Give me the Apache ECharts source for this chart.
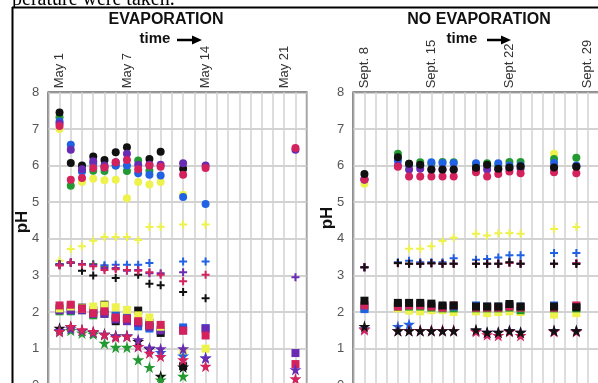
<!DOCTYPE html>
<html>
<head>
<meta charset="utf-8">
<script src="https://cdn.jsdelivr.net/npm/echarts@6/dist/echarts.min.js"></script>
<style>
html, body { margin: 0; padding: 0; background: #fff; overflow: hidden; }
/* the original figure is cropped: the plots run past the right and bottom edges */
#chart { width: 640px; height: 400px; }
</style>
</head>
<body>
<div id="chart"></div>
<script>
// ---- data: EVAPORATION panel (x = day of May) ----
var evapDays = [1, 2, 3, 4, 5, 6, 7, 8, 9, 10, 12, 14, 22];
var evapLabelDays = [1, 7, 14, 21];
var evapLabelText = ['May 1', 'May 7', 'May 14', 'May 21'];

var evapCircleYellow = [7.0, null, 5.55, 5.64, 5.6, 5.61, 5.11, 5.55, 5.48, 5.55, 5.2, null, null];
var evapCircleGreen  = [7.32, 5.45, 5.86, 5.86, 5.85, 6.0, 5.85, 6.14, 5.86, null, null, null, null];
var evapCircleBlue   = [7.2, 6.57, 5.84, 6.05, 5.95, 6.0, 6.0, 5.79, 5.75, 5.73, 5.14, 4.95, null];
var evapCirclePurple = [7.15, 6.43, 5.9, 6.12, 6.0, 6.09, 6.32, 6.02, 6.02, 6.02, 6.06, 6.0, 6.43];
var evapCircleBlack  = [7.45, 6.07, 6.0, 6.25, 6.15, 6.36, 6.5, null, 6.18, 6.38, 5.91, null, null];
var evapCircleRed    = [7.08, 5.61, 5.66, 5.93, 5.95, 6.09, 6.15, 5.9, 6.0, 5.97, 5.75, 5.93, 6.48];

var evapPlusYellow = [3.4, 3.72, 3.8, 3.95, 4.05, 4.05, 4.05, 3.97, 4.32, 4.33, 4.39, 4.39, null];
var evapPlusGreen  = [3.3, null, null, 3.31, 3.25, null, null, null, null, null, null, null, null];
var evapPlusBlue   = [3.3, 3.34, null, null, 3.28, 3.29, 3.29, 3.29, 3.34, null, 3.38, 3.38, null];
var evapPlusPurple = [3.3, 3.35, 3.31, 3.29, 3.2, 3.2, 3.13, 3.15, 3.06, 3.06, 3.09, null, 2.95];
var evapPlusBlack  = [3.3, 3.35, 3.13, 3.0, null, 2.93, null, 3.02, 2.77, 2.73, 2.55, 2.38, null];
var evapPlusRed    = [3.27, 3.35, 3.29, 3.25, 3.15, 3.17, 3.15, 3.13, 3.09, 3.02, 2.84, 3.02, null];

var evapSquareYellow = [2.1, 2.15, 2.1, 2.15, 2.18, 2.13, 2.06, 1.91, 1.85, 1.6, 0.93, 1.0, null];
var evapSquareGreen  = [2.02, 2.02, 2.05, 1.91, 1.95, 1.9, 1.8, 1.7, 1.6, null, null, null, null];
var evapSquareBlue   = [2.08, 2.05, 2.1, 2.0, 2.0, 1.9, 1.85, 1.61, 1.55, 1.5, 1.58, 1.56, null];
var evapSquarePurple = [2.05, 2.05, 2.05, 1.95, 1.95, 1.8, 1.75, 1.7, 1.6, 1.5, 1.5, 1.55, 0.88];
var evapSquareBlack  = [2.1, 2.15, 2.12, 2.05, 2.2, 1.75, 1.8, 2.04, 1.7, 1.43, 0.52, null, null];
var evapSquareRed    = [2.18, 2.2, 2.09, 1.97, 2.02, 1.85, 1.82, 1.75, 1.64, 1.65, 1.49, 1.36, 0.58];

var evapStarGreen  = [1.47, 1.5, 1.43, 1.4, 1.15, 1.04, 1.04, 0.7, 0.49, 0.15, 0.25, null, null];
var evapStarBlue   = [null, null, null, null, null, null, null, 1.06, 1.0, 0.9, 0.8, 0.75, null];
var evapStarBlack  = [1.56, 1.6, 1.5, 1.45, 1.4, 1.35, 1.35, 1.2, 1.0, 0.25, 0.5, null, null];
var evapStarPurple = [1.5, 1.55, 1.5, 1.45, 1.4, 1.35, 1.35, 1.25, 1.02, 1.0, 1.0, 0.75, 0.43];
var evapStarRed    = [1.47, 1.61, 1.52, 1.47, 1.38, 1.31, 1.33, 1.06, 0.88, 0.79, 0.7, 0.52, 0.18];

// ---- data: NO EVAPORATION panel (x = days after Sept. 7) ----
var noevDays = [1, 4, 5, 6, 7, 8, 9, 11, 12, 13, 14, 15, 18, 20];
var noevLabelDays = [1, 7, 14, 21];
var noevLabelText = ['Sept. 8', 'Sept. 15', 'Sept 22', 'Sept. 29'];

var noevCircleYellow = [5.5, null, null, null, null, null, null, null, null, null, null, null, 6.32, null];
var noevCircleGreen  = [null, 6.32, 6.05, 6.09, 6.05, 6.1, 6.09, 6.0, 6.06, 6.0, 6.1, 6.1, 6.18, 6.21];
var noevCircleBlue   = [5.62, 6.14, 6.02, 6.0, 6.09, 6.07, 6.07, 6.06, 6.0, 6.06, 6.0, 6.0, 6.07, 6.0];
var noevCirclePurple = [5.62, 6.0, 5.89, 5.91, 5.89, 5.89, 5.89, 5.9, 5.89, 5.9, 5.92, 5.92, 5.95, 5.97];
var noevCircleRed    = [5.62, 5.97, 5.7, 5.7, 5.7, 5.7, 5.7, 5.82, 5.7, 5.77, 5.84, 5.79, 5.82, 5.79];
var noevCircleBlack  = [5.77, 6.23, 6.05, 6.02, 5.89, 5.89, 5.89, 5.94, 6.02, 5.91, 5.95, 5.98, 5.95, 5.97];

var noevPlusYellow = [null, null, 3.73, 3.73, 3.8, 3.94, 4.03, 4.14, 4.09, 4.15, 4.16, 4.14, 4.27, 4.32];
var noevPlusBlue   = [3.22, 3.36, 3.4, 3.36, 3.36, 3.36, 3.47, 3.43, 3.45, 3.49, 3.55, 3.55, 3.61, 3.61];
var noevPlusPurple = [3.22, 3.34, 3.32, 3.32, 3.33, 3.32, 3.32, 3.32, 3.32, 3.32, 3.35, 3.32, 3.32, 3.33];
var noevPlusRed    = [3.22, 3.33, 3.32, 3.32, 3.33, 3.32, 3.32, 3.32, 3.32, 3.32, 3.34, 3.32, 3.32, 3.33];
var noevPlusBlack  = [3.22, 3.34, 3.32, 3.32, 3.33, 3.32, 3.32, 3.32, 3.32, 3.32, 3.36, 3.32, 3.32, 3.31];

var noevSquareYellow = [null, 2.1, 2.04, 2.02, 2.05, 2.05, 2.0, 2.02, 1.97, 2.0, 2.02, 2.0, 1.93, 1.97];
var noevSquareGreen  = [2.12, 2.15, 2.15, 2.15, 2.12, 2.1, 2.1, 2.1, 2.1, 2.1, 2.12, 2.05, 2.1, 2.1];
var noevSquareBlue   = [2.08, 2.18, 2.22, 2.2, 2.18, 2.15, 2.15, 2.18, 2.15, 2.15, 2.18, 2.15, 2.18, 2.15];
var noevSquareRed    = [2.18, 2.15, 2.18, 2.18, 2.15, 2.12, 2.18, 2.12, 2.12, 2.12, 2.15, 2.12, 2.12, 2.18];
var noevSquareBlack  = [2.31, 2.25, 2.25, 2.25, 2.23, 2.18, 2.18, 2.15, 2.15, 2.15, 2.22, 2.15, 2.15, 2.13];

var noevStarBlue   = [null, 1.61, 1.67, null, null, null, null, null, null, null, null, null, null, null];
var noevStarPurple = [1.55, 1.5, 1.5, 1.5, 1.5, 1.5, 1.5, 1.5, 1.45, 1.45, 1.5, 1.45, 1.5, 1.5];
var noevStarRed    = [1.52, 1.5, 1.5, 1.5, 1.5, 1.5, 1.5, 1.47, 1.38, 1.36, 1.47, 1.36, 1.47, 1.47];
var noevStarBlack  = [1.61, 1.49, 1.49, 1.49, 1.49, 1.49, 1.49, 1.52, 1.45, 1.45, 1.49, 1.45, 1.49, 1.49];

var yTicks = [0, 1, 2, 3, 4, 5, 6, 7, 8];

// ---- styles ----
var COL = {
    yellow: '#eef24c',
    green: '#239a31',
    blue: '#2162e4',
    purple: '#6a2bb3',
    black: '#111111',
    red: '#d3225c'
};
var PLUS = 'path://M3,0H5V3H8V5H5V8H3V5H0V3H3Z';
var STAR = 'path://M50,0L61,35L98,35L68,57L79,91L50,70L21,91L32,57L2,35L39,35Z';
var FONT = '"Liberation Sans", Arial, Helvetica, sans-serif';

var chart = echarts.init(document.getElementById('chart'));

function pts(days, vals) {
    var out = [];
    for (var i = 0; i < days.length; i++) {
        if (vals[i] != null) out.push([days[i], vals[i]]);
    }
    return out;
}

function sc(idx, days, vals, symbol, size, color) {
    return {
        type: 'scatter',
        xAxisIndex: idx,
        yAxisIndex: idx,
        symbol: symbol,
        symbolSize: size,
        itemStyle: { color: color, opacity: 1 },
        data: pts(days, vals),
        silent: true
    };
}

function labelFmt(days, texts) {
    return function(v) {
        var k = days.indexOf(v);
        return k >= 0 ? texts[k] : '';
    };
}

var series = [
    // evaporation
    sc(0, evapDays, evapCircleYellow, 'circle', 8, COL.yellow),
    sc(0, evapDays, evapCircleGreen, 'circle', 8, COL.green),
    sc(0, evapDays, evapCircleBlue, 'circle', 8, COL.blue),
    sc(0, evapDays, evapCircleBlack, 'circle', 8, COL.black),
    sc(0, evapDays, evapCirclePurple, 'circle', 8, COL.purple),
    sc(0, evapDays, evapCircleRed, 'circle', 8, COL.red),
    sc(0, evapDays, evapPlusYellow, PLUS, 8, COL.yellow),
    sc(0, evapDays, evapPlusGreen, PLUS, 8, COL.green),
    sc(0, evapDays, evapPlusBlue, PLUS, 8, COL.blue),
    sc(0, evapDays, evapPlusBlack, PLUS, 8, COL.black),
    sc(0, evapDays, evapPlusPurple, PLUS, 8, COL.purple),
    sc(0, evapDays, evapPlusRed, PLUS, 8, COL.red),
    sc(0, evapDays, evapSquareGreen, 'rect', 8, COL.green),
    sc(0, evapDays, evapSquareBlue, 'rect', 8, COL.blue),
    sc(0, evapDays, evapSquareBlack, 'rect', 8, COL.black),
    sc(0, evapDays, evapSquarePurple, 'rect', 8, COL.purple),
    sc(0, evapDays, evapSquareYellow, 'rect', 8, COL.yellow),
    sc(0, evapDays, evapSquareRed, 'rect', 8, COL.red),
    sc(0, evapDays, evapStarBlue, STAR, 12, COL.blue),
    sc(0, evapDays, evapStarBlack, STAR, 12, COL.black),
    sc(0, evapDays, evapStarGreen, STAR, 12, COL.green),
    sc(0, evapDays, evapStarPurple, STAR, 12, COL.purple),
    sc(0, evapDays, evapStarRed, STAR, 12, COL.red),
    // no evaporation
    sc(1, noevDays, noevCircleYellow, 'circle', 8, COL.yellow),
    sc(1, noevDays, noevCircleGreen, 'circle', 8, COL.green),
    sc(1, noevDays, noevCircleBlue, 'circle', 8, COL.blue),
    sc(1, noevDays, noevCirclePurple, 'circle', 8, COL.purple),
    sc(1, noevDays, noevCircleRed, 'circle', 8, COL.red),
    sc(1, noevDays, noevCircleBlack, 'circle', 8, COL.black),
    sc(1, noevDays, noevPlusYellow, PLUS, 8, COL.yellow),
    sc(1, noevDays, noevPlusBlue, PLUS, 8, COL.blue),
    sc(1, noevDays, noevPlusPurple, PLUS, 8, COL.purple),
    sc(1, noevDays, noevPlusRed, PLUS, 8, COL.red),
    sc(1, noevDays, noevPlusBlack, PLUS, 8, COL.black),
    sc(1, noevDays, noevSquareYellow, 'rect', 8, COL.yellow),
    sc(1, noevDays, noevSquareGreen, 'rect', 8, COL.green),
    sc(1, noevDays, noevSquareBlue, 'rect', 8, COL.blue),
    sc(1, noevDays, noevSquareRed, 'rect', 8, COL.red),
    sc(1, noevDays, noevSquareBlack, 'rect', 8, COL.black),
    sc(1, noevDays, noevStarBlue, STAR, 12, COL.blue),
    sc(1, noevDays, noevStarPurple, STAR, 12, COL.purple),
    sc(1, noevDays, noevStarRed, STAR, 12, COL.red),
    sc(1, noevDays, noevStarBlack, STAR, 12, COL.black)
];

function xAx(idx, days, texts) {
    return {
        type: 'value',
        gridIndex: idx,
        position: 'top',
        min: 0,
        max: 23,
        interval: 1,
        axisLine: { show: false },
        axisTick: { show: false },
        axisLabel: {
            rotate: 90,
            margin: 4,
            fontFamily: FONT,
            fontSize: 13,
            color: '#333',
            showMinLabel: true,
            showMaxLabel: true,
            formatter: labelFmt(days, texts)
        },
        splitLine: { show: true, lineStyle: { color: '#d2d2d2', width: 1.5 } }
    };
}

function yAx(idx) {
    return {
        type: 'value',
        gridIndex: idx,
        min: yTicks[0],
        max: yTicks[yTicks.length - 1],
        interval: 1,
        axisLine: { show: false },
        axisTick: { show: false },
        axisLabel: { margin: 9, fontFamily: FONT, fontSize: 13, color: '#555' },
        splitLine: { show: true, lineStyle: { color: '#c4c4c4', width: 1.5 } }
    };
}

function arrow(x0, x1, y) {
    return [
        { type: 'line', shape: { x1: x0, y1: y, x2: x1 - 7, y2: y }, style: { stroke: '#000', lineWidth: 2.5 } },
        { type: 'polygon', shape: { points: [[x1 - 10, y - 4.5], [x1, y], [x1 - 10, y + 4.5]] }, style: { fill: '#000' } }
    ];
}

var graphics = [
    // tail of the sentence above the figure, cut off by the crop
    { type: 'text', style: { text: 'perature were taken.', x: 12, y: 10, textVerticalAlign: 'bottom', font: '20px "Liberation Serif", "Times New Roman", serif', fill: '#000' } },
    { type: 'rect', shape: { x: 0, y: 8, width: 640, height: 10 }, style: { fill: '#fff' } },
    { type: 'line', shape: { x1: 12, y1: 7.5, x2: 640, y2: 7.5 }, style: { stroke: '#000', lineWidth: 2 } },
    { type: 'line', shape: { x1: 12.5, y1: 7, x2: 12.5, y2: 400 }, style: { stroke: '#000', lineWidth: 2 } },
    { type: 'text', style: { text: 'EVAPORATION', x: 166, y: 20, textAlign: 'center', textVerticalAlign: 'middle', font: 'bold 16px ' + FONT, fill: '#111' } },
    { type: 'text', style: { text: 'time', x: 155, y: 39, textAlign: 'center', textVerticalAlign: 'middle', font: 'bold 15px ' + FONT, fill: '#111' } },
    { type: 'text', style: { text: 'NO EVAPORATION', x: 479, y: 20, textAlign: 'center', textVerticalAlign: 'middle', font: 'bold 16px ' + FONT, fill: '#111' } },
    { type: 'text', style: { text: 'time', x: 462, y: 39, textAlign: 'center', textVerticalAlign: 'middle', font: 'bold 15px ' + FONT, fill: '#111' } },
    { type: 'text', rotation: Math.PI / 2, x: 22, y: 222, style: { text: 'pH', textAlign: 'center', textVerticalAlign: 'middle', font: 'bold 17px ' + FONT, fill: '#111' } },
    { type: 'text', rotation: Math.PI / 2, x: 327, y: 218, style: { text: 'pH', textAlign: 'center', textVerticalAlign: 'middle', font: 'bold 17px ' + FONT, fill: '#111' } }
].concat(arrow(177, 202, 40)).concat(arrow(487, 511, 40));

var option = {
    animation: false,
    backgroundColor: '#fff',
    grid: [
        { left: 48.3, top: 92.3, width: 258.4, height: 293, show: true, borderColor: '#222', borderWidth: 1.6, backgroundColor: 'transparent' },
        { left: 353.3, top: 92.3, width: 256.5, height: 293, show: true, borderColor: '#222', borderWidth: 1.6, backgroundColor: 'transparent' }
    ],
    xAxis: [xAx(0, evapLabelDays, evapLabelText), xAx(1, noevLabelDays, noevLabelText)],
    yAxis: [yAx(0), yAx(1)],
    graphic: graphics,
    series: series
};

chart.setOption(option);
</script>
</body>
</html>
